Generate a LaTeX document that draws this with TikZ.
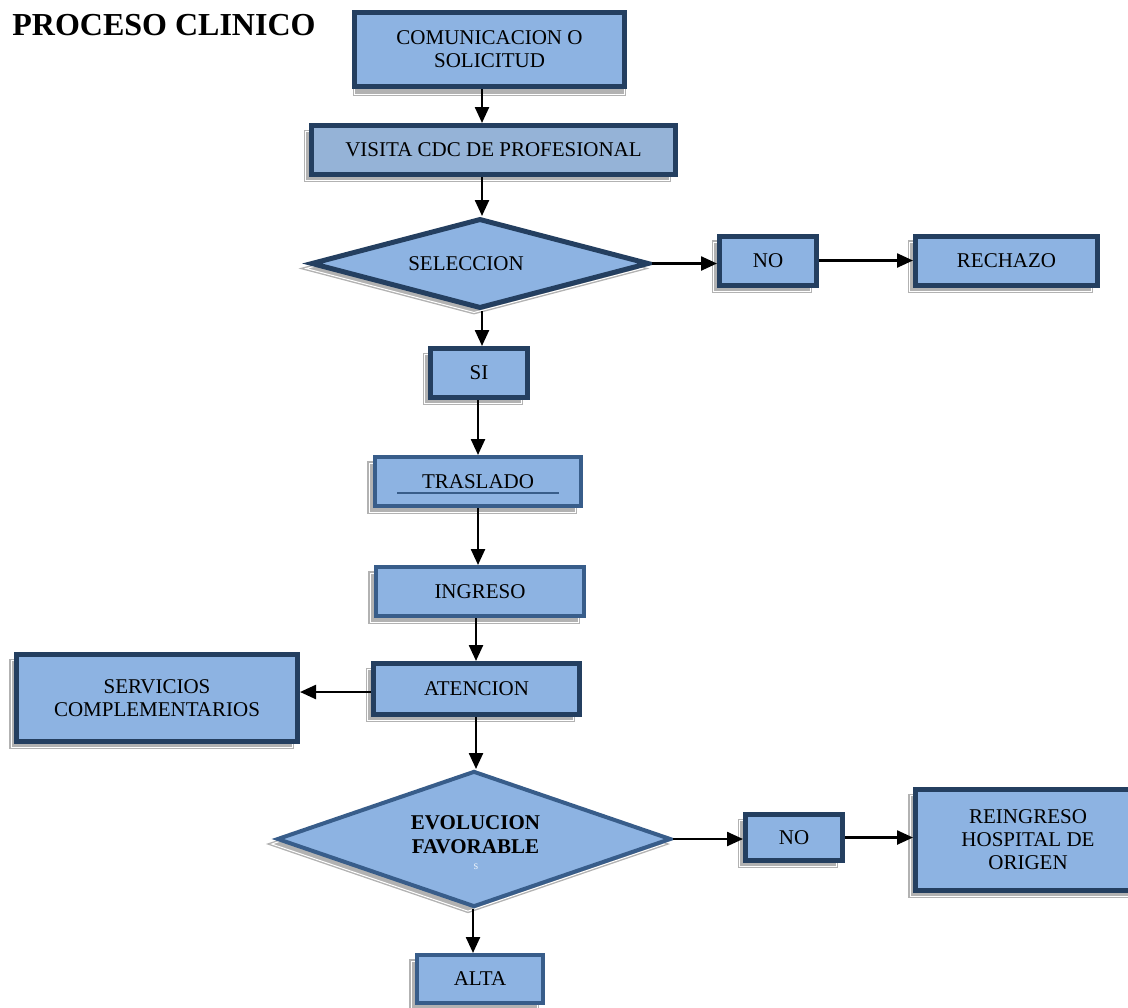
\documentclass[tikz,border=0pt]{standalone}
\usepackage{fontspec}
\setmainfont{Liberation Serif}
\usetikzlibrary{shapes.geometric,arrows.meta,shadows,calc}
\definecolor{lb}{HTML}{8DB3E2}
\definecolor{lbg}{HTML}{95B3D7}
\definecolor{dkb}{HTML}{243F60}
\definecolor{mdb}{HTML}{385D8A}
\tikzset{
  shd/.style={general shadow={shadow xshift=#1, shadow yshift=-3pt, fill=gray!60, draw=gray!60, double=white, double distance=0.5pt, line width=0.7pt}},
  shd/.default=-3pt,
  txt/.style={font=\fontsize{10.5}{11.5}\selectfont, align=center, text=black},
  boxbase/.style={txt, draw=dkb, line width=2.5pt, fill=lb, inner sep=0pt},
  boxd/.style={boxbase, shd},
  boxm/.style={txt, draw=mdb, line width=2pt, fill=lb, inner sep=0pt, shd},
  dia/.style={diamond, inner sep=0pt, general shadow={shadow xshift=-3pt, shadow yshift=-2.5pt, fill=gray!60, draw=gray!60, double=white, double distance=0.5pt, line width=0.7pt}},
  arr/.style={line width=1.2pt, -{Triangle[length=8pt,width=7pt]}},
}
\begin{document}
\begin{tikzpicture}[x=0.5pt,y=-0.5pt]
\useasboundingbox (0,0) rectangle (1128,1007);
\node[anchor=base west, font=\fontsize{16}{18}\selectfont\bfseries, inner sep=0pt] (title) at (12,35) {PROCESO CLINICO};

\node[boxbase, general shadow={shadow xshift=0pt, shadow yshift=-4pt, fill=gray!60, draw=gray!60, double=white, double distance=0.5pt, line width=0.7pt}, minimum width=135pt, minimum height=37pt] (comm) at (489.5,49.5) {COMUNICACION O\\SOLICITUD};
\node[boxd, fill=lbg, minimum width=182pt, minimum height=24.5pt] (vis) at (493.5,150) {VISITA CDC DE PROFESIONAL};
\node[dia, draw=dkb, line width=2.5pt, fill=lb, minimum width=169pt, minimum height=45pt] (sel) at (480,263.5) {};
\node[txt] (selt) at (466,264) {SELECCION};
\node[boxd, minimum width=48.5pt, minimum height=24.5pt] (no1) at (768,260.5) {NO};
\node[boxd, minimum width=91pt, minimum height=24.5pt] (rech) at (1006.5,260.5) {RECHAZO};
\node[boxd, minimum width=48.5pt, minimum height=24.5pt] (si) at (479,373) {SI};
\node[boxm, minimum width=103pt, minimum height=24.5pt] (tras) at (478,481.5) {TRASLADO};
\node[boxm, minimum width=104pt, minimum height=24.5pt] (ingr) at (480,591.5) {INGRESO};
\node[boxd, minimum width=103pt, minimum height=25.5pt] (aten) at (476.5,689) {ATENCION};
\node[boxd, shd=-2.5pt, minimum width=140.5pt, minimum height=43.5pt] (serv) at (157,698) {SERVICIOS\\COMPLEMENTARIOS};
\node[dia, draw=mdb, line width=2pt, fill=lb, minimum width=197pt, minimum height=68pt] (evol) at (474,839) {};
\node[txt, font=\fontsize{10.5}{12}\selectfont\bfseries] (evolt) at (475.5,835) {EVOLUCION\\FAVORABLE};
\node[text=white!80!lb, font=\fontsize{6}{6}\selectfont, inner sep=0pt] (evols) at (476,867) {s};
\node[boxd, minimum width=48.5pt, minimum height=23pt] (no2) at (794,837.5) {NO};
\node[boxd, shd=-2.5pt, minimum width=112.5pt, minimum height=50.5pt] (rein) at (1028,840) {REINGRESO\\HOSPITAL DE\\ORIGEN};
\node[boxm, minimum width=63pt, minimum height=24pt] (alta) at (480,979) {ALTA};

\draw[mdb, line width=0.6pt] ($(tras.center)+(-81,11.5)$) -- ($(tras.center)+(81,11.5)$);

\draw[arr] ($(comm.south)+(-7.5,0)$) -- ($(vis.north)+(-11.5,0)$);
\draw[arr] ($(vis.south)+(-11.5,0)$) -- ($(sel.north)+(2,0)$);
\draw[arr] (sel.east) -- (sel.east -| no1.west);
\draw[arr] (no1.east) -- (no1.east -| rech.west);
\draw[arr] ($(sel.south)+(2,0)$) -- ($(si.north)+(3,0)$);
\draw[arr] ($(si.south)+(-1,0)$) -- (tras.north);
\draw[arr] (tras.south) -- ($(ingr.north)+(-2,0)$);
\draw[arr] ($(ingr.south)+(-4,0)$) -- ($(aten.north)+(-0.5,0)$);
\draw[arr] ($(aten.west)+(0,3)$) -- ($(serv.east)+(0,-6)$);
\draw[arr] ($(aten.south)+(-0.5,0)$) -- ($(evol.north)+(2,0)$);
\draw[arr] (evol.east) -- (evol.east -| no2.west);
\draw[arr] (no2.east) -- (no2.east -| rein.west);
\draw[arr] ($(evol.south)+(-1,0)$) -- ($(alta.north)+(-7,0)$);
\end{tikzpicture}
\end{document}
